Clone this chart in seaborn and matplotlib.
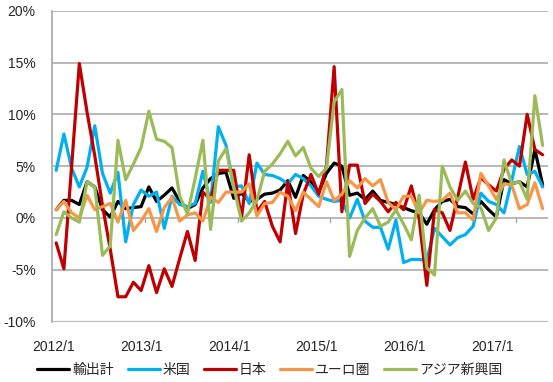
import matplotlib
matplotlib.use('Agg')
import matplotlib.pyplot as plt
import seaborn as sns
import numpy as np
import pandas as pd

# monthly, 2012/1 - 2017/4 (y/y %)
months = pd.date_range('2012-01-01', '2017-04-01', freq='MS')

total = [0.8, 1.7, 1.7, 1.3, 3.5, 3.0, 0.8, 0.1, 1.6, 0.9, 1.0, 1.1,
         3.0, 1.6, 2.2, 2.9, 1.6, 0.9, 1.3, 2.9, 3.8, 4.3, 4.4, 1.9,
         2.4, 1.6, 1.8, 2.3, 2.4, 2.7, 3.6, 2.0, 4.1, 3.5, 2.5, 4.3,
         5.3, 5.0, 2.2, 2.4, 1.8, 2.6, 1.7, 1.5, 1.3, 1.0, 0.7, 0.5,
         -0.6, 0.8, 1.6, 1.8, 1.1, 1.0, 0.4, 1.6, 0.8, 0.1, 3.7, 3.3,
         3.5, 3.0, 6.6, 3.2]
usa = [4.6, 8.1, 4.8, 3.0, 4.9, 8.9, 4.3, 2.4, 4.4, -2.3, 1.3, 2.7,
       2.1, 2.5, -1.0, 2.1, 1.3, 1.1, 1.4, 4.5, 1.5, 8.8, 7.0, 3.0,
       3.1, 1.4, 5.3, 4.2, 4.1, 3.8, 3.3, 4.2, 3.8, 3.1, 2.1, 1.8,
       1.6, 1.7, 0.0, 1.8, -0.3, -0.9, -0.9, -3.0, -0.2, -4.3, -4.0, -4.0,
       -4.1, -1.0, -1.8, -2.6, -1.9, -1.6, -0.8, 2.4, 1.6, 1.3, 0.5, 3.6,
       6.9, 4.2, 4.5, 3.0]
japan = [-2.4, -4.9, 5.0, 14.9, 10.2, 6.0, 1.2, -3.0, -7.6, -7.6, -6.2, -7.0,
         -4.6, -7.2, -4.9, -6.6, -3.9, -1.3, -4.1, 2.5, 1.8, 4.6, 4.6, 4.6,
         0.0, 6.1, 0.6, 1.6, -0.8, -2.3, 3.5, -1.5, 2.3, 4.2, 2.3, 5.0,
         14.6, 0.6, 5.1, 5.1, 1.4, 2.3, 1.6, 0.6, 1.5, 0.8, 3.1, 0.0,
         -6.5, 0.8, 0.5, -1.2, 2.0, 5.4, 1.8, 3.9, 3.2, 2.6, 4.7, 5.6,
         5.0, 10.0, 6.6, 6.1]
euro = [0.8, 1.6, 0.5, 0.0, 2.2, 0.8, 1.1, 1.4, -0.4, 1.7, -1.2, -0.3,
        0.9, -1.3, 1.0, 2.0, -0.3, 0.3, 0.5, -0.3, 2.0, 1.5, 2.5, 2.5,
        2.5, 3.3, 0.2, 1.4, 1.5, 2.5, 2.1, 0.7, 2.5, 1.8, 1.1, 3.5,
        1.7, 2.3, 3.6, 2.9, 3.8, 3.1, 3.7, 1.5, 0.8, 2.1, 2.1, 0.5,
        1.7, 1.6, 1.7, 2.4, 0.5, 0.5, -0.2, 4.3, 3.1, 1.8, 3.3, 3.2,
        0.9, 1.3, 3.4, 0.9]
asia = [-1.6, 0.6, 0.0, -0.4, 3.5, 3.0, -3.6, -2.7, 7.5, 3.7, 5.2, 6.8,
        10.3, 7.6, 7.4, 6.8, 2.1, 0.4, 3.8, 7.5, -1.1, 5.5, 6.7, 3.0,
        -0.3, 0.5, 1.7, 4.5, 5.2, 6.2, 7.4, 6.0, 6.8, 4.8, 4.0, 4.8,
        11.2, 12.4, -3.7, -1.2, 0.0, 0.9, -0.8, -0.4, 0.8, -0.6, -2.1, 2.2,
        -4.8, -5.5, 5.0, 3.0, 1.7, 2.6, 1.4, 1.0, -1.2, 0.0, 5.6, 3.3,
        3.5, 1.8, 11.8, 7.0]

series_names = ['輸出計', '米国', '日本', 'ユーロ圏', 'アジア新興国']
colors = ['#000000', '#00b0f0', '#c00000', '#f79646', '#9bbb59']
year_labels = ['2012/1', '2013/1', '2014/1', '2015/1', '2016/1', '2017/1']

df = pd.DataFrame({'t': np.arange(len(months))})
for name, vals in zip(series_names, [total, usa, japan, euro, asia]):
    df[name] = vals
long = df.melt(id_vars='t', var_name='series', value_name='value')

sns.set_style('white')
plt.rcParams['font.family'] = ['Liberation Sans', 'Noto Sans CJK JP']

fig = plt.figure(figsize=(5.53, 3.82), dpi=100)
ax = fig.add_axes([0.0946, 0.158, 0.8964, 0.814])

sns.lineplot(data=long, x='t', y='value', hue='series', hue_order=series_names,
             palette=colors, linewidth=2.3, ax=ax, legend=False)

ax.set_ylim(-10, 20)
ax.set_xlim(-0.5, 63.7)
ax.set_yticks(np.arange(-10, 21, 5))
ax.set_yticklabels([f'{v}%' for v in range(-10, 21, 5)], fontsize=10)
for y in range(-5, 21, 5):
    ax.axhline(y, color='#a6a6a6', linewidth=1.1, zorder=0)
ax.axhline(-10, color='#bfbfbf', linewidth=1.6, zorder=0)

# year boundary tick marks hanging from the 0% line
for b in np.arange(11.5, len(months), 12):
    ax.plot([b, b], [0, -0.4], color='#a6a6a6', linewidth=1, zorder=0)

ax.set_xticks(np.linspace(-0.35, 56.5, len(year_labels)))
ax.set_xticklabels(year_labels, fontsize=10)
ax.tick_params(axis='both', length=0)
ax.tick_params(axis='x', pad=13)
ax.tick_params(axis='y', pad=12)
ax.set_xlabel('')
ax.set_ylabel('')

for s in ['top', 'right', 'bottom']:
    ax.spines[s].set_visible(False)
ax.spines['left'].set_color('#a6a6a6')
ax.spines['left'].set_linewidth(1.2)

handles = [plt.Line2D([], [], color=c, linewidth=2.3) for c in colors]
fig.legend(handles, series_names, loc='center', bbox_to_anchor=(0.488, 0.031),
           ncol=5, frameon=False, fontsize=10, handlelength=2.3,
           handletextpad=0.2, columnspacing=1.0)

plt.savefig('out.png', dpi=100)
plt.close()
